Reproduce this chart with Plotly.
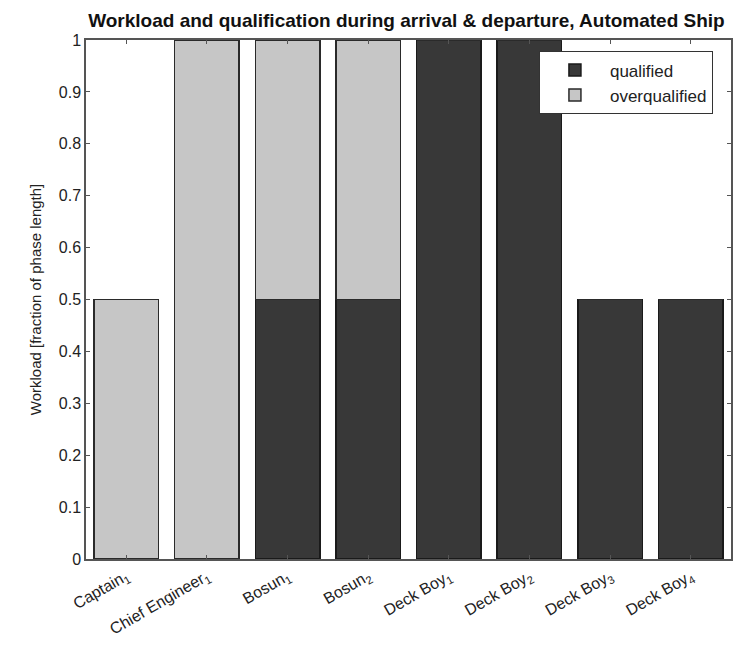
import plotly.graph_objects as go

categories = ["Captain<sub>1</sub>", "Chief Engineer<sub>1</sub>", "Bosun<sub>1</sub>", "Bosun<sub>2</sub>",
              "Deck Boy<sub>1</sub>", "Deck Boy<sub>2</sub>", "Deck Boy<sub>3</sub>", "Deck Boy<sub>4</sub>"]
positions = [1, 2, 3, 4, 5, 6, 7, 8]
qualified = [0, 0, 0.5, 0.5, 1, 1, 0.5, 0.5]
overqualified = [0.5, 1, 0.5, 0.5, 0, 0, 0, 0]
y_ticks = [0, 0.1, 0.2, 0.3, 0.4, 0.5, 0.6, 0.7, 0.8, 0.9, 1]
y_ticklabels = ["0", "0.1", "0.2", "0.3", "0.4", "0.5", "0.6", "0.7", "0.8", "0.9", "1"]

FONT = "Liberation Sans, Arial, sans-serif"

fig = go.Figure()
fig.add_trace(go.Bar(x=positions, y=qualified, name="qualified", width=0.8,
                     marker=dict(color="#383838", line=dict(color="#1a1a1a", width=1.5))))
fig.add_trace(go.Bar(x=positions, y=overqualified, name="overqualified", width=0.8,
                     marker=dict(color="#c6c6c6", line=dict(color="#2a2a2a", width=1.5))))

fig.update_layout(
    barmode="stack",
    width=742, height=664,
    margin=dict(l=78, r=19, t=32, b=113),
    paper_bgcolor="white", plot_bgcolor="white",
    font=dict(family=FONT, size=14, color="#222222"),
    title=dict(text="<b>Workload and qualification during arrival & departure, Automated Ship</b>",
               x=0.537, xanchor="center", y=0.982, yanchor="middle",
               font=dict(family=FONT, size=19, color="#111111")),
    legend=dict(x=0.972, y=0.978, xanchor="right", yanchor="top",
                bgcolor="white", bordercolor="#333333", borderwidth=1,
                font=dict(family=FONT, size=17, color="#222222"),
                itemwidth=60, tracegroupgap=0, traceorder="normal"),
    xaxis=dict(range=[0.5, 8.5], tickmode="array", tickvals=positions, ticktext=categories,
               tickangle=-30, ticks="inside", ticklen=4, tickcolor="#555555",
               showline=True, linecolor="#555555", linewidth=1.5, mirror="ticks",
               showgrid=False, zeroline=False, tickfont=dict(size=16), automargin=False),
    yaxis=dict(range=[0, 1], tickmode="array", tickvals=y_ticks, ticktext=y_ticklabels,
               ticks="inside", ticklen=4, tickcolor="#555555",
               showline=True, linecolor="#555555", linewidth=1.5, mirror="ticks",
               showgrid=False, zeroline=False, tickfont=dict(size=16), automargin=False,
               title=dict(text="Workload [fraction of phase length]", font=dict(size=15), standoff=14)),
)

fig.write_html("out.html")
